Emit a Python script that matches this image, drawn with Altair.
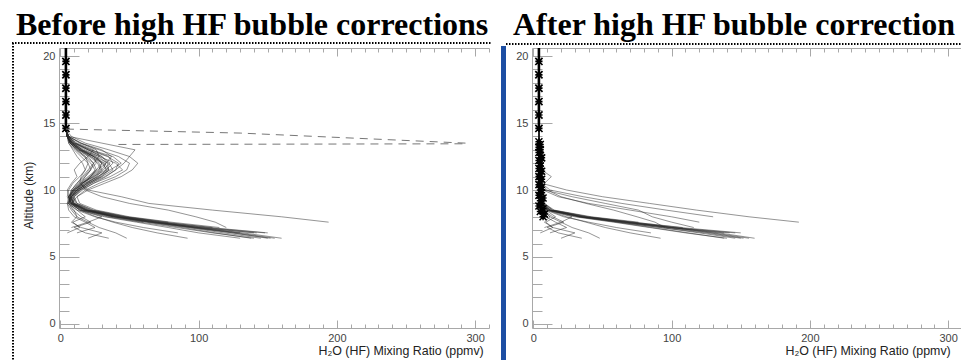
import altair as alt
import pandas as pd

# ---- data -------------------------------------------------------------
# Altitude levels (km) shared by every water-vapour profile
ALT = [6.4, 6.8, 7.2, 7.6, 8.0, 8.5, 9.0, 9.5, 10.0, 10.5, 11.0, 11.5,
       12.0, 12.5, 13.0, 13.5, 14.0, 14.5]

# H2O (HF) mixing ratio (ppmv) per profile, None where there is no measurement
BEFORE = [
    [None, 148, 105, 72, 45, 20, 9, 7, 10, 16, 24, 30, 33, 28, 18, 9, 5, 4],
    [152, 125, 96, 66, 40, 18, 8, 6, 9, 14, 20, 26, 24, 18, 12, 7, 5, 4],
    [None, 140, 100, 68, 42, 19, 10, 8, 12, 20, 30, 38, 35, 25, 15, 8, 5, 4],
    [155, 128, 98, 70, 44, 21, 11, 9, 14, 22, 32, 40, 42, 34, 20, 10, 6, 4],
    [None, None, 110, 75, 46, 22, 10, 7, 9, 13, 18, 22, 20, 15, 10, 6, 5, 4],
    [145, 118, 92, 64, 38, 17, 8, 6, 10, 18, 27, 34, 30, 22, 14, 8, 5, 4],
    [None, 150, 108, 74, 47, 23, 12, 9, 13, 19, 26, 31, 36, 30, 20, 11, 6, 4],
    [160, 132, 100, 70, 43, 20, 9, 8, 12, 17, 23, 29, 27, 21, 13, 7, 5, 4],
    [None, None, None, 78, 48, 24, 12, 10, 15, 24, 36, 45, 40, 28, 16, 9, 5, 4],
    [138, 112, 88, 62, 39, 18, 9, 8, 11, 16, 22, 25, 22, 17, 11, 7, 5, 4],
    [None, 142, 102, 69, 41, 19, 10, 7, 8, 12, 17, 21, 26, 24, 16, 9, 5, 4],
    [150, 124, 94, 65, 40, 18, 8, 6, 9, 15, 24, 33, 38, 35, 22, 11, 6, 4],
    [None, 130, 96, 66, 40, 18, 9, 10, 16, 24, 33, 40, 46, 50, 54, 30, 6, 4],
    [None, None, None, None, 38, 16, 8, 12, 20, 32, 44, 52, 56, 50, 35, 18, 8, 4],
    [None, None, 115, 80, 50, 26, 14, 12, 18, 28, 40, 48, 50, 42, 28, 14, 6, 4],
    [140, 110, 84, 58, 34, 15, 7, 6, 8, 12, 16, 20, 24, 28, 26, 15, 6, 4],
    [None, None, None, 194, 160, 110, 64, 44, 20, 14, 15, 18, 20, 18, 12, 7, 5, 4],
    [None, None, 120, 112, 98, 78, 50, 30, 18, 15, 18, 22, 24, 20, 13, 7, 5, 4],
    [92, 70, 52, 38, 26, 14, 8, 7, 10, 16, 22, 28, 30, 24, 14, 8, 5, 4],
    [None, 85, 60, 40, 25, 12, 6, 8, 14, 22, 30, 35, 32, 24, 14, 8, 5, 4],
    [None, 12, 25, 18, 10, 6, 5, 8, 12, 18, 25, 30, 28, 22, 14, 8, 5, 4],
    [20, 30, 15, 8, 12, 10, 6, 7, 11, 16, 22, 26, 30, 26, 16, 9, 5, 4],
    [None, None, 8, 20, 30, 14, 7, 9, 14, 21, 28, 33, 31, 24, 15, 8, 5, 4],
    [35, 18, 10, 22, 15, 9, 6, 8, 13, 19, 27, 36, 44, 38, 22, 10, 5, 4],
    [None, 5, 14, 9, 18, 12, 6, 7, 12, 20, 29, 35, 34, 30, 20, 10, 6, 4],
    [48, 40, 28, 20, 12, 8, 5, 6, 10, 15, 21, 27, 33, 37, 30, 15, 6, 4],
    [None, None, None, 60, 36, 16, 8, 6, 5, 8, 12, 10, 14, 20, 24, 12, 5, 4],
    [130, 100, 78, 55, 32, 14, 7, 5, 6, 9, 14, 18, 16, 12, 9, 6, 5, 4],
]

AFTER = [
    [None, 146, 102, 68, 36, 12, 6, 5, 5, 4, 5, 5, 4, 4, 5, 4, 4, 4],
    [152, 128, 96, 64, 34, 11, 6, 5, 4, 5, 5, 4, 5, 4, 4, 5, 4, 4],
    [None, 138, 98, 66, 35, 12, 7, 5, 5, 5, 4, 4, 5, 5, 4, 4, 4, 4],
    [156, 130, 100, 70, 38, 13, 7, 6, 5, 5, 5, 5, 4, 4, 5, 4, 4, 4],
    [None, None, 108, 72, 39, 14, 7, 5, 4, 4, 5, 5, 5, 4, 4, 4, 4, 4],
    [146, 120, 92, 62, 33, 11, 6, 5, 5, 5, 5, 4, 4, 5, 4, 4, 4, 4],
    [None, 150, 106, 72, 40, 14, 8, 6, 5, 5, 4, 5, 5, 5, 4, 5, 4, 4],
    [160, 134, 100, 68, 36, 12, 6, 5, 5, 4, 4, 5, 4, 4, 4, 4, 4, 4],
    [None, None, None, 76, 42, 15, 8, 6, 6, 5, 5, 5, 5, 4, 5, 4, 4, 4],
    [138, 112, 86, 60, 32, 11, 6, 5, 5, 5, 4, 4, 4, 5, 4, 4, 4, 4],
    [None, 142, 100, 66, 35, 12, 6, 5, 5, 5, 5, 5, 4, 4, 4, 4, 4, 4],
    [150, 124, 92, 62, 34, 11, 6, 5, 4, 5, 5, 4, 5, 4, 4, 4, 4, 4],
    [None, None, None, 192, 156, 118, 84, 50, 24, 6, 5, 5, 4, 5, 4, 4, 4, 4],
    [None, None, 116, 100, 86, 76, 52, 28, 8, 5, 5, 5, 4, 4, 4, 4, 4, 4],
    [None, None, None, None, 130, 96, 64, 36, 12, 6, 5, 5, 5, 4, 4, 4, 4, 4],
    [None, None, None, 120, 100, 70, 40, 18, 7, 5, 5, 4, 4, 4, 4, 4, 4, 4],
    [None, None, 95, 88, 75, 58, 38, 20, 10, 5, 4, 5, 4, 4, 4, 4, 4, 4],
    [140, 110, 84, 58, 30, 10, 6, 5, 6, 8, 13, 6, 5, 4, 4, 4, 4, 4],
    [None, 12, 24, 16, 9, 6, 5, 5, 4, 5, 5, 4, 4, 5, 4, 4, 4, 4],
    [20, 30, 14, 8, 12, 8, 5, 5, 5, 4, 4, 5, 5, 4, 4, 4, 4, 4],
    [None, None, 8, 20, 28, 10, 6, 5, 5, 5, 4, 4, 4, 4, 5, 4, 4, 4],
    [35, 18, 10, 22, 14, 7, 5, 5, 4, 5, 5, 5, 4, 4, 4, 4, 4, 4],
    [None, 5, 14, 9, 16, 9, 5, 5, 5, 5, 4, 4, 5, 4, 4, 4, 4, 4],
    [48, 40, 28, 20, 12, 7, 5, 4, 5, 5, 5, 4, 4, 4, 4, 4, 4, 4],
    [92, 70, 52, 38, 24, 10, 6, 5, 5, 4, 4, 5, 4, 4, 4, 4, 4, 4],
    [None, 85, 60, 40, 22, 9, 5, 5, 4, 5, 5, 4, 4, 4, 5, 4, 4, 4],
]

# common upper part above the tropopause
UPPER_ALT = [14.5, 20.6]
UPPER_VAL = [4, 4]
STAR_TOP_ALT = [14.6, 15.6, 16.6, 17.6, 18.6, 19.6]
STAR_TOP_VAL = [4, 4, 4, 4, 4, 4]

# flagged (replaced) points after the correction
STAR_LOW_ALT = [8.0, 8.2, 8.4, 8.6, 8.8, 9.0, 9.2, 9.4, 9.6, 9.8, 10.0, 10.2,
                10.4, 10.6, 10.8, 11.0, 11.2, 11.4, 11.6, 11.8, 12.0, 12.2,
                12.4, 12.6, 12.8, 13.0, 13.2, 13.4, 13.6]
STAR_LOW_VAL = [7, 8, 5, 7, 4, 6, 5, 7, 4, 6, 5, 6, 4, 5, 6, 4, 5, 6, 4, 5,
                5, 4, 6, 5, 4, 5, 4, 5, 4]

# high HF bubble excursions (dashed)
DASH_A_ALT = [14.55, 14.25, 13.5]
DASH_A_VAL = [4, 130, 293]
DASH_B_ALT = [13.4, 13.45]
DASH_B_VAL = [42, 293]

Y_TICKS_MAJOR = [0, 5, 10, 15, 20]
Y_TICKS_MINOR = list(range(0, 21))
X_TICKS_MAJOR = [0, 100, 200, 300]
X_TICKS_MINOR = list(range(0, 311, 10))

TITLES = ["Before high HF bubble corrections", "After high HF bubble correction"]
X_TITLE = "H₂O (HF) Mixing Ratio (ppmv)"
Y_TITLE = "Altitude (km)"

# ---- layout -----------------------------------------------------------
W, H = 961, 360
PANEL_X = {"L": 59, "R": 532}
PLOT_W = 430
Y_TOP, Y_BOT = 48, 328
X_DOMAIN = [-1, 310]
Y_DOMAIN = [-0.3, 20.6]
SANS = "Liberation Sans"
SERIF = "Liberation Serif"
AXIS_GRAY = "#a8a8a8"
LABEL_GRAY = "#444"


def xscale(p):
    return alt.Scale(domain=X_DOMAIN, range=[PANEL_X[p], PANEL_X[p] + PLOT_W],
                     nice=False, zero=False)


def yscale():
    return alt.Scale(domain=Y_DOMAIN, range=[Y_BOT, Y_TOP], nice=False, zero=False)


def profile_table(rows):
    recs = []
    for pid, row in enumerate(rows):
        for k, (a, v) in enumerate(zip(ALT, row)):
            if v is not None:
                recs.append({"pid": pid, "k": k, "alt": a, "val": v})
    return pd.DataFrame(recs)


def series(alts, vals):
    return pd.DataFrame({"k": range(len(alts)), "alt": alts, "val": vals})


def enc(chart, p, xaxis=None, yaxis=None):
    return chart.encode(
        x=alt.X("val:Q", scale=xscale(p), axis=xaxis),
        y=alt.Y("alt:Q", scale=yscale(), axis=yaxis),
    )


def tick_axis_layer(p, xvals, xsize, yvals, ysize, top_domain):
    """Invisible layer carrying the top axis and the inward y ticks of a panel."""
    dummy = alt.Chart(series([0], [0])).mark_point(opacity=0)
    x_ax = alt.Axis(orient="bottom", offset=Y_TOP - H, values=xvals, tickSize=xsize,
                    tickColor=AXIS_GRAY, labels=False, domain=top_domain,
                    domainColor=AXIS_GRAY, grid=False, title=None)
    y_ax = alt.Axis(orient="right", offset=PANEL_X[p] - W, values=yvals, tickSize=ysize,
                    tickColor=AXIS_GRAY, labels=False, domain=False, grid=False,
                    title=None)
    return enc(dummy, p, x_ax, y_ax)


def bottom_tick_layer(p, xvals, xsize):
    """Invisible layer carrying upward ticks on the bottom axis."""
    dummy = alt.Chart(series([0], [0])).mark_point(opacity=0)
    x_ax = alt.Axis(orient="top", offset=-Y_BOT, values=xvals, tickSize=xsize,
                    tickColor=AXIS_GRAY, labels=False, domain=False, grid=False,
                    title=None)
    return enc(dummy, p, x_ax, None)


STAR = "M-1,-1L1,1M-1,1L1,-1M-1,0L1,0M0,-1L0,1"


def panel(p, rows, title_x_pos, with_ytitle):
    layers = []
    x_ax = alt.Axis(orient="bottom", offset=Y_BOT - H, values=X_TICKS_MAJOR,
                    ticks=False, tickSize=0, domain=True, domainColor=AXIS_GRAY,
                    grid=False, labelFont=SANS, labelFontSize=11, labelColor=LABEL_GRAY,
                    labelPadding=4, labelFlush=False, format="d",
                    title=X_TITLE, titleFont=SANS, titleFontSize=12.4,
                    titleFontWeight="normal", titleColor="#222",
                    titleX=title_x_pos, titleY=22, titleAlign="left",
                    titleBaseline="middle")
    y_kwargs = dict(orient="left", offset=-PANEL_X[p], values=Y_TICKS_MAJOR,
                    ticks=False, tickSize=0, domain=True, domainColor=AXIS_GRAY,
                    grid=False, labelFont=SANS, labelFontSize=11, labelColor=LABEL_GRAY,
                    labelPadding=4, labelFlush=False, format="d")
    if with_ytitle:
        y_ax = alt.Axis(title=Y_TITLE, titleFont=SANS, titleFontSize=12,
                        titleFontWeight="normal", titleColor="#222",
                        titleX=28 - PANEL_X[p], titleY=195, titleAngle=270,
                        titleAlign="center", titleBaseline="middle", **y_kwargs)
    else:
        y_ax = alt.Axis(title=None, **y_kwargs)

    profiles = alt.Chart(profile_table(rows)).mark_line(
        stroke="#262626", strokeWidth=0.8, opacity=0.62
    ).encode(detail="pid:N", order="k:Q")
    layers.append(enc(profiles, p, x_ax, y_ax))

    layers.append(tick_axis_layer(p, X_TICKS_MINOR, 4, Y_TICKS_MINOR, 10, True))
    layers.append(tick_axis_layer(p, X_TICKS_MAJOR, 8, Y_TICKS_MAJOR, 20, False))
    layers.append(bottom_tick_layer(p, X_TICKS_MINOR, 4))
    layers.append(bottom_tick_layer(p, X_TICKS_MAJOR, 8))

    upper = alt.Chart(series(UPPER_ALT, UPPER_VAL)).mark_line(
        stroke="black", strokeWidth=2.6
    ).encode(order="k:Q")
    layers.append(enc(upper, p))

    stars = alt.Chart(series(STAR_TOP_ALT, STAR_TOP_VAL)).mark_point(
        shape=STAR, size=52, filled=False, stroke="black", strokeWidth=1.7, opacity=1
    )
    layers.append(enc(stars, p))
    return layers


left = panel("L", BEFORE, 318, True)
for a_, v_ in [(DASH_A_ALT, DASH_A_VAL), (DASH_B_ALT, DASH_B_VAL)]:
    dash = alt.Chart(series(a_, v_)).mark_line(
        stroke="#777", strokeWidth=1, strokeDash=[8, 6]
    ).encode(order="k:Q")
    left.append(enc(dash, "L"))

right = panel("R", AFTER, 785, False)
low_stars = alt.Chart(series(STAR_LOW_ALT, STAR_LOW_VAL)).mark_point(
    shape=STAR, size=49, filled=False, stroke="black", strokeWidth=1.5, opacity=1
)
right.append(enc(low_stars, "R"))

# ---- decorations: titles, frames, divider -------------------------------
deco_data = alt.Data(values=[{"d": 0}])
decor = [
    alt.Chart(pd.DataFrame({"t": TITLES[:1]})).mark_text(
        font=SERIF, fontSize=32, fontWeight="bold", align="left",
        baseline="alphabetic", color="black"
    ).encode(x=alt.value(16), y=alt.value(35), text="t:N"),
    alt.Chart(pd.DataFrame({"t": TITLES[1:]})).mark_text(
        font=SERIF, fontSize=32, fontWeight="bold", align="left",
        baseline="alphabetic", color="black"
    ).encode(x=alt.value(513), y=alt.value(35), text="t:N"),
    alt.Chart(deco_data).mark_rule(stroke="black", strokeWidth=2, strokeDash=[1.5, 1.5])
    .encode(x=alt.value(12), x2=alt.value(492), y=alt.value(43)),
    alt.Chart(deco_data).mark_rule(stroke="black", strokeWidth=2, strokeDash=[1.5, 1.5])
    .encode(x=alt.value(13), y=alt.value(43), y2=alt.value(H)),
    alt.Chart(deco_data).mark_rule(stroke="black", strokeWidth=2, strokeDash=[1.5, 1.5])
    .encode(x=alt.value(506), x2=alt.value(W), y=alt.value(44)),
    alt.Chart(deco_data).mark_rule(stroke="#1d4ea3", strokeWidth=5)
    .encode(x=alt.value(503.5), y=alt.value(46), y2=alt.value(H)),
]

chart = (
    alt.layer(*(left + right + decor))
    .resolve_scale(x="independent", y="independent")
    .properties(width=W, height=H, padding=0,
                autosize=alt.AutoSizeParams(type="none"),
                background="white")
    .configure_view(stroke=None)
)

chart.save("out.html", embed_options={"renderer": "svg", "actions": False})
